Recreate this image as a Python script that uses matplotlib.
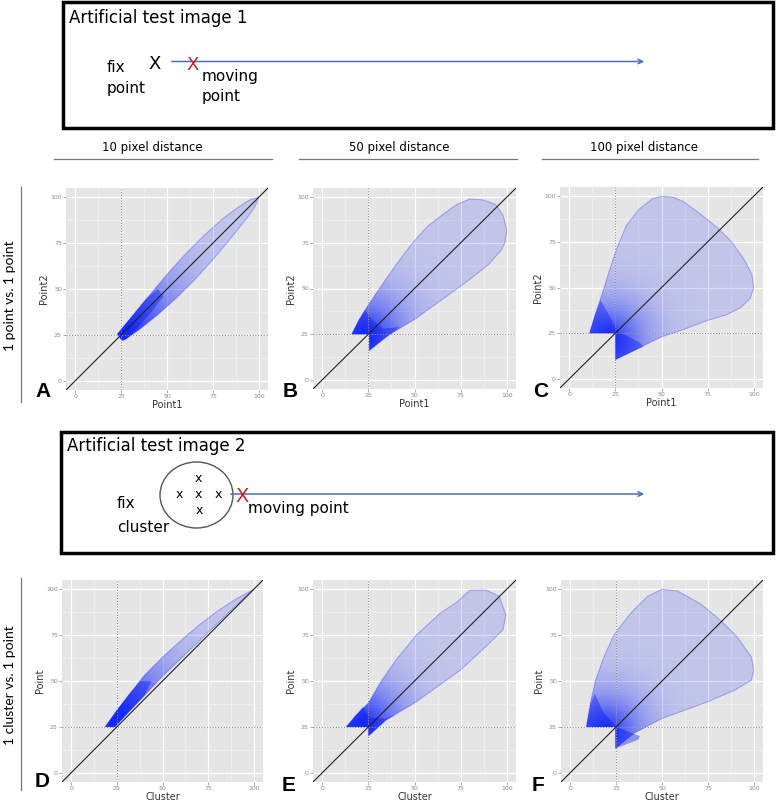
import numpy as np
import matplotlib
matplotlib.use("Agg")
import matplotlib.pyplot as plt
from matplotlib.patches import Rectangle, Ellipse, Polygon

W, H = 778, 802

# ---- data (outline and dense part of each blob) ----
ticks = [0, 25, 50, 75, 100]

a_outer_x = [23, 30, 40, 50, 60, 70, 80, 88, 95, 100, 98, 93, 85, 75, 65, 55, 45, 35, 28, 26, 25]
a_outer_y = [25.5, 34, 46, 58, 69, 79, 88, 94, 98.5, 100, 95, 88, 78, 66, 55, 45, 36, 28, 23, 22, 22.5]
a_core_x = [23, 30, 38, 45, 48, 42, 35, 28, 26, 25]
a_core_y = [25.5, 34, 44, 50, 46, 38, 30, 23, 22, 22.5]

b_outer_x = [16, 20, 25, 31, 40, 49, 57, 66, 73, 80, 87, 94, 98, 100, 99, 97, 90, 80, 65, 50, 35, 25.5, 25.5]
b_outer_y = [25, 33, 41, 50, 63, 75, 84, 91, 96, 99, 98.5, 96, 90, 82, 75, 71, 63, 55, 44, 33, 24, 16, 25]
b_core_x = [16, 20, 23, 27, 33, 42, 36, 25.5, 25.5]
b_core_y = [25, 33, 38, 33, 28, 29, 24, 16, 25]

c_outer_x = [11, 14, 18, 22, 26, 31, 38, 45, 50, 56, 62, 70, 80, 88, 95, 99, 100, 98, 93, 85, 75, 62, 50, 38, 25, 25]
c_outer_y = [25, 35, 47, 60, 72, 84, 93, 98.5, 100, 99.5, 97, 91, 83, 75, 65, 57, 50, 44, 39, 35, 32, 27, 23, 17, 10.5, 25]
c_core_x = [11, 14, 17, 21, 26, 38, 40, 25, 25]
c_core_y = [25, 35, 43, 36, 26, 20, 17.5, 10.5, 25]

d_outer_x = [18.6, 25, 32, 40, 50, 60, 70, 80, 90, 100, 88, 75, 62, 50, 40, 30, 24]
d_outer_y = [25, 34, 43, 53, 63, 72, 80.5, 88, 94.5, 100, 89, 76.5, 64, 52.5, 42, 31.5, 25]
d_core_x = [18.6, 25, 32, 38, 44, 40, 30, 24]
d_core_y = [25, 34, 43, 50, 50, 42, 31.5, 25]

e_outer_x = [13, 18, 25, 32, 40, 51, 64, 73, 80, 89, 96, 99.5, 98, 90, 75, 50, 35, 25, 25]
e_outer_y = [25, 31, 38, 50, 61.5, 75, 87, 93, 99.5, 99.5, 96, 86, 78, 70, 56, 38, 29, 20, 25]
e_core_x = [13, 18, 22, 26, 34, 40, 34, 25, 25]
e_core_y = [25, 31, 36, 30, 29.5, 31.5, 28.5, 20, 25]

f_outer_x = [8.8, 11, 13.7, 18.3, 23.8, 33, 42, 50, 58.5, 71, 82, 91, 98.7, 100, 98.7, 89.6, 75, 50, 34.7, 24.7, 24.7]
f_outer_y = [25, 37.8, 50, 63, 75, 87, 96, 100, 99, 92, 83, 74, 63, 56, 50.5, 45, 38.7, 29.6, 21.5, 13.3, 25]
f_core_x = [8.8, 11, 13.5, 18, 25, 38, 37, 24.7, 24.7]
f_core_y = [25, 37, 43, 33, 25, 20, 18, 13.3, 25]

# letter, axes box (px), letter pos (px), labels, outline, core, shading centre + reach
panels = [
    ("A", (66, 188, 268, 390), (35, 397), "Point1", "Point2",
     a_outer_x, a_outer_y, a_core_x, a_core_y, (26, 26), 32),
    ("B", (313, 188, 516, 389), (283, 397), "Point1", "Point2",
     b_outer_x, b_outer_y, b_core_x, b_core_y, (23, 24), 21),
    ("C", (560, 187, 763, 388), (533, 397), "Point1", "Point2",
     c_outer_x, c_outer_y, c_core_x, c_core_y, (21, 21), 19),
    ("D", (62, 580, 263, 782), (35, 787), "Cluster", "Point",
     d_outer_x, d_outer_y, d_core_x, d_core_y, (24, 30), 32),
    ("E", (313, 580, 516, 782), (282, 791), "Cluster", "Point",
     e_outer_x, e_outer_y, e_core_x, e_core_y, (22, 26), 21),
    ("F", (561, 580, 763, 782), (532, 791), "Cluster", "Point",
     f_outer_x, f_outer_y, f_core_x, f_core_y, (19, 22), 19),
]

fig = plt.figure(figsize=(W / 100, H / 100), dpi=100)
fig.patch.set_facecolor("white")

def px_axes(l, t, r, b):
    return fig.add_axes([l / W, 1 - b / H, (r - l) / W, (b - t) / H])

gx, gy = np.meshgrid(np.linspace(-5, 105, 440), np.linspace(-5, 105, 440))

for letter, box, lpos, xlab, ylab, ox, oy, cx, cy, centre, reach in panels:
    ax = px_axes(*box)
    ax.set_facecolor("#e5e5e5")
    ax.set_xticks(ticks)
    ax.set_yticks(ticks)
    ax.set_xticks([12.5, 37.5, 62.5, 87.5], minor=True)
    ax.set_yticks([12.5, 37.5, 62.5, 87.5], minor=True)
    ax.grid(which="major", color="white", lw=0.9)
    ax.grid(which="minor", color="#f2f2f2", lw=0.5)
    ax.tick_params(which="minor", length=0)
    ax.tick_params(which="major", length=2, width=0.5, color="#8a8a8a",
                   labelsize=4.5, labelcolor="#8a8a8a", pad=1)
    for s in ax.spines.values():
        s.set_visible(False)
    ax.set_axisbelow(True)
    ax.set_xlabel(xlab, fontsize=7, color="#333333", labelpad=0.5)
    ax.set_ylabel(ylab, fontsize=7, color="#333333", labelpad=1)

    # blob: shaded fill clipped to the outline, darker towards the start corner
    outline = Polygon(np.column_stack([ox, oy]), closed=True, facecolor="none",
                      edgecolor=(0, 0, 1, 0.25), lw=0.8, zorder=3)
    ax.add_patch(outline)
    dist = np.hypot(gx - centre[0], gy - centre[1])
    shade = np.zeros(gx.shape + (4,))
    shade[..., 1] = 0.08
    shade[..., 2] = 1.0
    shade[..., 3] = 0.15 + 0.72 * np.exp(-(dist / reach) ** 1.5)
    im = ax.imshow(shade, extent=(-5, 105, -5, 105), origin="lower", aspect="auto",
                   interpolation="bilinear", zorder=2)
    im.set_clip_path(outline)
    ax.add_patch(Polygon(np.column_stack([cx, cy]), closed=True, facecolor=(0.0, 0.1, 0.95, 0.4),
                         edgecolor="none", zorder=2.5))

    ax.set_xlim(-5, 105)
    ax.set_ylim(-5, 105)
    ax.axvline(25, color="#8a8a8a", lw=0.8, ls=(0, (1, 1.5)), zorder=3)
    ax.axhline(25, color="#8a8a8a", lw=0.8, ls=(0, (1, 1.5)), zorder=3)
    ax.axline((0, 0), slope=1, color="#222222", lw=0.8, zorder=4)

    fig.text(lpos[0] / W, 1 - lpos[1] / H, letter, fontsize=15, fontweight="bold",
             family="Liberation Sans", ha="left", va="baseline")

# ---- overlay for the schematic boxes, headers and row labels ----
ov = fig.add_axes([0, 0, 1, 1], zorder=-1)
ov.set_xlim(0, W)
ov.set_ylim(H, 0)
ov.axis("off")

txt = dict(family="DejaVu Sans", color="black", va="center")
arrow_c = "#4a6fb5"
red = "#c0272d"

# box 1
ov.add_patch(Rectangle((63, 2), 710, 126, fill=False, lw=2.5, ec="black"))
ov.text(69, 18, "Artificial test image 1", fontsize=12, ha="left", **txt)
ov.text(107, 67, "fix", fontsize=11, ha="left", **txt)
ov.text(107, 88, "point", fontsize=11, ha="left", **txt)
ov.text(155, 64, "X", fontsize=13, ha="center", **txt)
ov.annotate("", xy=(647, 61.5), xytext=(169, 61.5),
            arrowprops=dict(arrowstyle="->", color=arrow_c, lw=1.1, mutation_scale=8))
ov.text(193, 65, "X", fontsize=13, ha="center", family="DejaVu Sans", color=red, va="center")
ov.text(202, 76, "moving", fontsize=11, ha="left", **txt)
ov.text(202, 97, "point", fontsize=11, ha="left", **txt)

# box 2
ov.add_patch(Rectangle((61, 432), 712, 121, fill=False, lw=2.5, ec="black"))
ov.text(67, 446, "Artificial test image 2", fontsize=12, ha="left", **txt)
ov.add_patch(Ellipse((196.5, 495), 73, 66, fill=False, ec="#555555", lw=1))
for px, py in [(198, 479), (179, 495), (198, 495), (218, 495), (199, 511)]:
    ov.text(px, py, "x", fontsize=9, ha="center", **txt)
ov.annotate("", xy=(647, 494), xytext=(228, 494),
            arrowprops=dict(arrowstyle="->", color=arrow_c, lw=1.1, mutation_scale=8))
ov.text(242, 497, "X", fontsize=14, ha="center", family="DejaVu Sans", color=red, va="center")
ov.text(117, 504, "fix", fontsize=11, ha="left", **txt)
ov.text(117, 527, "cluster", fontsize=11, ha="left", **txt)
ov.text(248, 509, "moving point", fontsize=11, ha="left", **txt)

# column headers
for cxh, x0, x1, lab in [(152, 54, 272, "10 pixel distance"),
                         (399, 299, 517, "50 pixel distance"),
                         (644, 542, 758, "100 pixel distance")]:
    ov.text(cxh, 147, lab, fontsize=8.5, ha="center", **txt)
    ov.plot([x0, x1], [159, 159], color="#777777", lw=0.9)

# row labels
ov.text(10, 296, "1 point vs. 1 point", fontsize=10, rotation=90, ha="center",
        family="Lato", va="center")
ov.plot([21, 21], [187, 402], color="#777777", lw=0.9)
ov.text(10, 685, "1 cluster vs. 1 point", fontsize=10, rotation=90, ha="center",
        family="Lato", va="center")
ov.plot([21, 21], [578, 790], color="#777777", lw=0.9)

fig.savefig("out.png", dpi=100)
